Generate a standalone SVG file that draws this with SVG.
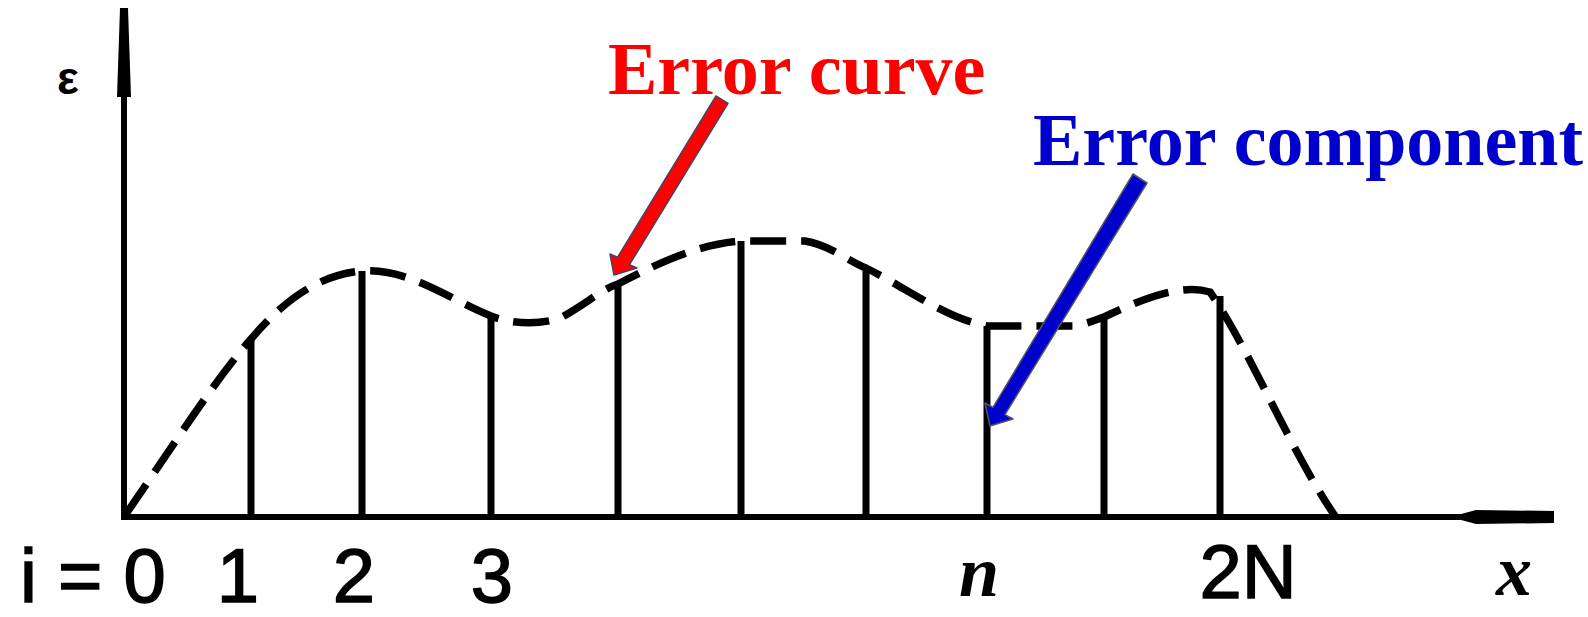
<svg xmlns="http://www.w3.org/2000/svg" width="1588" height="617" viewBox="0 0 1588 617">
<style>
.axis{stroke:#000;stroke-width:6;fill:none}
.stem{stroke:#000;stroke-width:7;fill:none}
.curve{stroke:#000;stroke-width:7.5;fill:none;stroke-dasharray:36 15}
.lbl{font-family:"Liberation Sans",Arial,sans-serif;fill:#000;stroke:#000;stroke-width:1.5}
.ital{font-family:"Liberation Serif","Times New Roman",serif;font-style:italic;font-weight:bold;fill:#000}
.title{font-family:"Liberation Serif","Times New Roman",serif;font-weight:bold;font-size:74px}
</style>
<rect width="1588" height="617" fill="#fff"/>
<g id="axes">
<line class="axis" x1="124" y1="20" x2="124" y2="520"/>
<polygon points="120,8 128,8 131,97 117,97" fill="#000"/>
<line class="axis" x1="121" y1="517" x2="1460" y2="517"/>
<polygon points="1450,517 1476,510 1554,511 1554,523 1476,524" fill="#000"/>
<text x="68" y="94" font-size="46" font-weight="bold" font-family="Liberation Sans, Arial, sans-serif" text-anchor="middle">ε</text>
</g>
<g id="stems">
<line class="stem" x1="251" y1="339" x2="251" y2="517"/>
<line class="stem" x1="362" y1="271" x2="362" y2="517"/>
<line class="stem" x1="491" y1="316" x2="491" y2="517"/>
<line class="stem" x1="618" y1="284" x2="618" y2="517"/>
<line class="stem" x1="741" y1="241" x2="741" y2="517"/>
<line class="stem" x1="866" y1="268" x2="866" y2="517"/>
<line class="stem" x1="987" y1="326" x2="987" y2="517"/>
<line class="stem" x1="1104" y1="317" x2="1104" y2="517"/>
<line class="stem" x1="1220" y1="296" x2="1220" y2="517"/>
</g>
<g id="error-curve">
<path class="curve" d="M126,514 C170,450 215,380 251,339 C280,305 315,275 362,271 C410,268 450,300 491,316 C510,324 540,325 560,318 C585,305 600,290 618,284 C660,262 700,244 741,241 L805,241 C830,245 850,262 866,268 C910,290 945,318 987,326 L1074,326 C1090,323 1100,318 1104,317 C1140,300 1180,283 1210,292 C1250,350 1290,450 1335,516"/>
</g>
<g id="labels">
<text class="lbl" x="20" y="602" font-size="76">i = 0</text>
<text class="lbl" x="238" y="602" font-size="76" text-anchor="middle">1</text>
<text class="lbl" x="354" y="602" font-size="76" text-anchor="middle">2</text>
<text class="lbl" x="492" y="602" font-size="76" text-anchor="middle">3</text>
<text class="ital" x="979" y="596" font-size="72" text-anchor="middle">n</text>
<text class="lbl" x="1248" y="598" font-size="76" text-anchor="middle">2N</text>
<text class="ital" x="1514" y="595" font-size="72" text-anchor="middle">x</text>
</g>
<g id="error-curve-label">
<text class="title" x="608" y="94" fill="#FF0000">Error curve</text>
<polygon points="716,96 728,103.4 629.5,264.7 637,268 614,275 610,254 617.5,257.3" fill="#FF0000" stroke="#444466" stroke-width="1.5" stroke-linejoin="round"/>
</g>
<g id="error-component-label">
<text class="title" x="1033" y="165" fill="#0000CC">Error component</text>
<polygon points="1133,174 1147,183 1005,414.6 1013,419 990,426 985,403 993,407.4" fill="#0000CC" stroke="#555566" stroke-width="1.5" stroke-linejoin="round"/>
</g>
</svg>
